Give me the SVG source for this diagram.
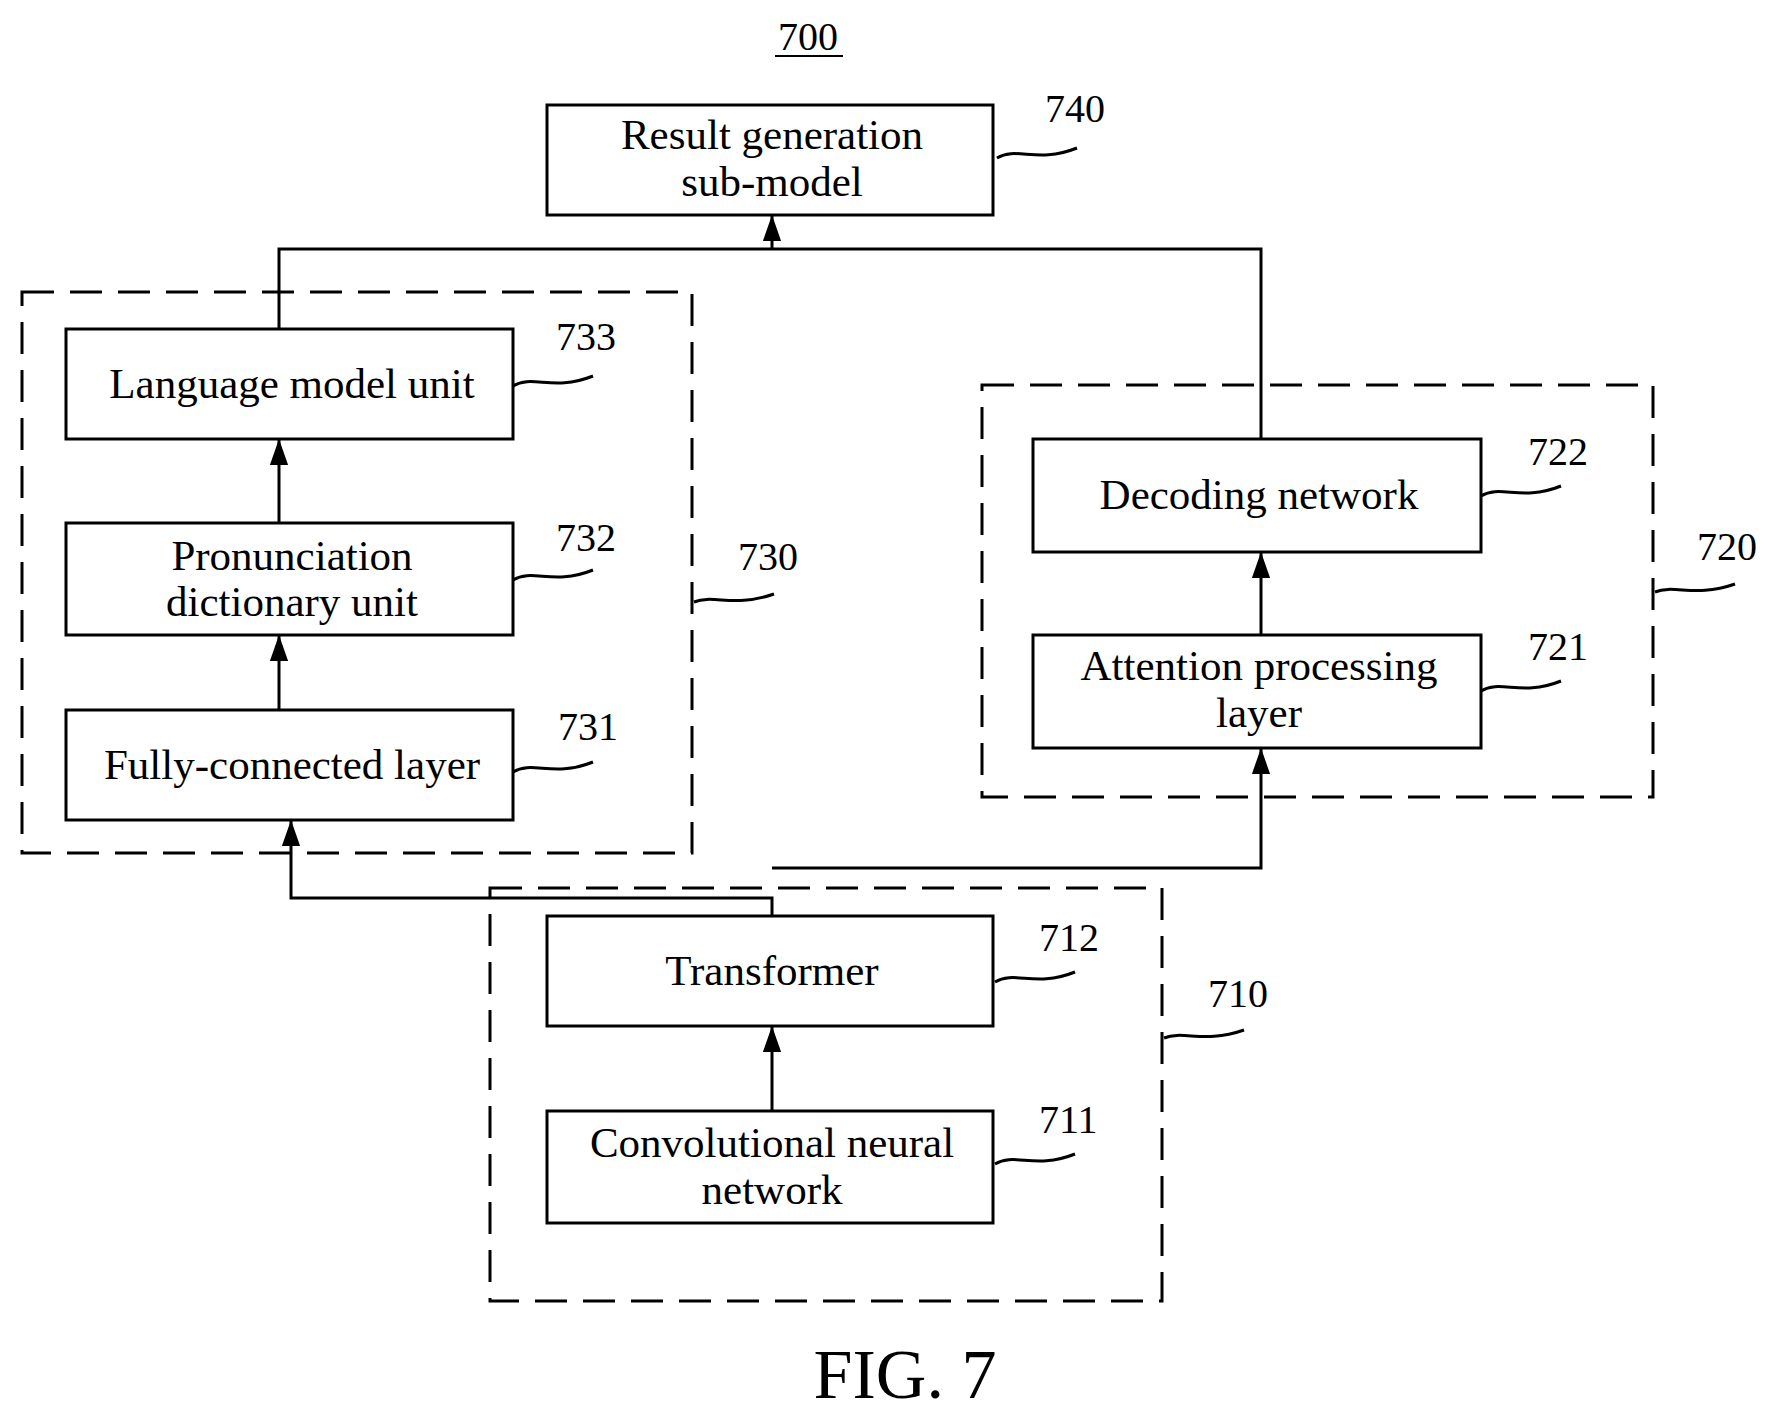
<svg xmlns="http://www.w3.org/2000/svg" width="1776" height="1410" viewBox="0 0 1776 1410">
<style>
.b{fill:#fff;stroke:#000;stroke-width:3}
.d{fill:none;stroke:#000;stroke-width:3;stroke-dasharray:32 16}
.t{font-family:"Liberation Serif",serif;font-size:43px;text-anchor:middle;fill:#000}
.n{font-family:"Liberation Serif",serif;font-size:40px;fill:#000}
.l{fill:none;stroke:#000;stroke-width:3}
</style>
<defs><marker id="a" viewBox="0 0 10 10" refX="10" refY="5" markerWidth="8" markerHeight="8" markerUnits="userSpaceOnUse" orient="auto"><path d="M0,0L10,5L0,10z" fill="#000"/></marker>
<marker id="ah" viewBox="0 0 10 10" refX="10" refY="5" markerWidth="26" markerHeight="26" markerUnits="userSpaceOnUse" orient="auto"><path d="M0,1.5L10,5L0,8.5z" fill="#000"/></marker></defs>
<text class="n" x="808" y="50" text-anchor="middle">700</text>
<line x1="775" y1="56" x2="843" y2="56" stroke="#000" stroke-width="2"/>
<g id="g730"><rect class="d" x="22" y="292" width="670" height="561"/><path class="l" d="M694,602c20,-8 40,6 80,-8"/><text class="n" x="738" y="570">730</text></g>
<g id="g720"><rect class="d" x="982" y="385" width="671" height="412"/><path class="l" d="M1655,592c20,-8 40,6 80,-8"/><text class="n" x="1697" y="560">720</text></g>
<g id="g710"><rect class="d" x="490" y="888" width="672" height="413"/><path class="l" d="M1164,1038c20,-8 40,6 80,-8"/><text class="n" x="1208" y="1007">710</text></g>
<g id="n740"><rect class="b" x="547" y="105" width="446" height="110"/><text class="t" x="772" y="149">Result generation</text><text class="t" x="772" y="196">sub-model</text><path class="l" d="M997,158c20,-12 40,6 80,-10"/><text class="n" x="1045" y="122">740</text></g>
<g id="n733"><rect class="b" x="66" y="329" width="447" height="110"/><text class="t" x="292" y="398">Language model unit</text><path class="l" d="M513,386c20,-12 40,6 80,-10"/><text class="n" x="556" y="350">733</text></g>
<g id="n732"><rect class="b" x="66" y="523" width="447" height="112"/><text class="t" x="292" y="570">Pronunciation</text><text class="t" x="292" y="616">dictionary unit</text><path class="l" d="M513,580c20,-12 40,6 80,-10"/><text class="n" x="556" y="551">732</text></g>
<g id="n731"><rect class="b" x="66" y="710" width="447" height="110"/><text class="t" x="292" y="779">Fully-connected layer</text><path class="l" d="M513,772c20,-12 40,6 80,-10"/><text class="n" x="558" y="740">731</text></g>
<g id="n722"><rect class="b" x="1033" y="439" width="448" height="113"/><text class="t" x="1259" y="509">Decoding network</text><path class="l" d="M1481,496c20,-12 40,6 80,-10"/><text class="n" x="1528" y="465">722</text></g>
<g id="n721"><rect class="b" x="1033" y="635" width="448" height="113"/><text class="t" x="1259" y="680">Attention processing</text><text class="t" x="1259" y="727">layer</text><path class="l" d="M1481,691c20,-12 40,6 80,-10"/><text class="n" x="1528" y="660">721</text></g>
<g id="n712"><rect class="b" x="547" y="916" width="446" height="110"/><text class="t" x="772" y="985">Transformer</text><path class="l" d="M995,982c20,-12 40,6 80,-10"/><text class="n" x="1039" y="951">712</text></g>
<g id="n711"><rect class="b" x="547" y="1111" width="446" height="112"/><text class="t" x="772" y="1157">Convolutional neural</text><text class="t" x="772" y="1204">network</text><path class="l" d="M995,1164c20,-12 40,6 80,-10"/><text class="n" x="1039" y="1133">711</text></g>
<g id="connectors" class="l">
<path class="l" d="M279,329V249H1261V439"/>
<path class="l" d="M772,249V215" marker-end="url(#ah)"/>
<path class="l" d="M279,523V439" marker-end="url(#ah)"/>
<path class="l" d="M279,710V635" marker-end="url(#ah)"/>
<path class="l" d="M1261,635V552" marker-end="url(#ah)"/>
<path class="l" d="M772,1111V1026" marker-end="url(#ah)"/>
<path class="l" d="M772,916V898H291V820" marker-end="url(#ah)"/>
<path class="l" d="M772,868H1261V748" marker-end="url(#ah)"/>
</g>
<text x="905" y="1398" font-family="Liberation Serif,serif" font-size="70" text-anchor="middle">FIG. 7</text>
</svg>
